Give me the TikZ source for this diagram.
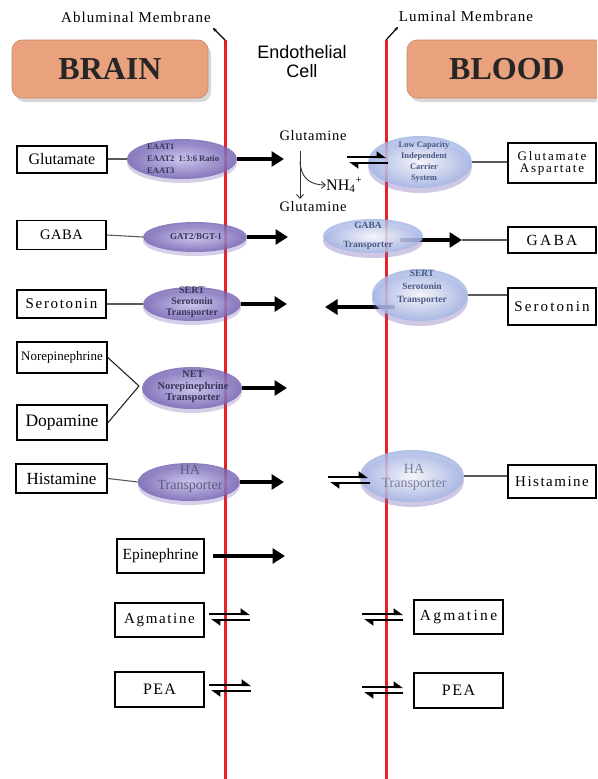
\documentclass[tikz,border=0pt]{standalone}
\usepackage{fontspec}
\setmainfont{Liberation Serif}
\newfontfamily\sansf{Liberation Sans}
\usetikzlibrary{arrows.meta,shapes.geometric,shadows}
\newcommand\fsz[1]{\fontsize{#1}{#1}\selectfont}
\newcommand\lsp[1]{\addfontfeatures{LetterSpace=#1}}
\definecolor{membr}{HTML}{E5222A}
\definecolor{salmon}{HTML}{E9A27D}
\definecolor{purIn}{HTML}{CBC4EE}
\definecolor{purOut}{HTML}{7462B2}
\definecolor{bluOut}{HTML}{A2B4E4}
\definecolor{ptxt}{HTML}{35355A}
\definecolor{btxt}{HTML}{4A5884}
\definecolor{htxt}{HTML}{5A5F80}
\pgfdeclarelayer{back}
\pgfdeclarelayer{mid}
\pgfsetlayers{back,mid,main}
\begin{document}
\begin{tikzpicture}[x=1pt,y=-1pt,
  region/.style={rounded corners=10pt, fill=salmon, draw=salmon!85!black, line width=0.6pt,
    minimum width=196pt, minimum height=58pt, inner sep=0pt, font=\bfseries\fsz{32}, text=black!85,
    drop shadow={opacity=.3, shadow xshift=3pt, shadow yshift=-4pt}},
  title/.style={inner sep=0pt, font=\fsz{15}\lsp{7}},
  endo/.style={inner sep=0pt, align=center, font=\sansf\fontsize{18}{19}\selectfont},
  box/.style={draw, line width=1.5pt, fill=white, inner sep=0pt, align=center},
  pell/.style={ellipse, inner sep=0pt, inner color=purIn, outer color=purOut, fill opacity=.82,
    drop shadow={opacity=.3, fill=purOut, shadow xshift=0pt, shadow yshift=-4pt}},
  bell/.style={ellipse, inner sep=0pt, inner color=white, outer color=bluOut, fill opacity=.82,
    drop shadow={opacity=.35, fill=purOut, shadow xshift=0pt, shadow yshift=-5pt}},
  ptext/.style={inner sep=0pt, align=center, text=ptxt},
  membrane/.style={draw=membr, line width=3pt},
  tick/.style={line width=1.2pt, -{Stealth[length=3.5pt,width=3.5pt]}},
  conn/.style={draw=black!65, line width=1.1pt},
  bigarrow/.style={line width=4pt, -{Triangle[length=12.5pt,width=15pt]}},
  thinarr/.style={line width=0.9pt, draw=black!80, -{Straight Barb[length=4pt,width=7pt]}},
  harp/.style={line width=2.5pt, -{Triangle[harpoon,length=8pt,width=11pt]}}
]
\clip (0,0) rectangle (597,779);

% headers
\node[region] (brain) at (110,69) {BRAIN};
\node[region, minimum width=200pt] (blood) at (507,69) {BLOOD};
\node[title] (ablab) at (136,17) {Abluminal Membrane};
\node[title] (lulab) at (466,16) {Luminal Membrane};
\node[endo] (endo) at (302,62) {Endothelial\\Cell};

% membranes
\coordinate (abTop) at (225,40);
\coordinate (abBot) at (225,779);
\coordinate (abTick) at (213,28);
\coordinate (luTop) at (386,40);
\coordinate (luBot) at (386,779);
\coordinate (luTick) at (398,27);

% left boxes
\node[box, minimum width=90pt, minimum height=27pt, font=\fsz{16}, line width=2pt] (glutL) at (62,159) {Glutamate};
\node[box, minimum width=89pt, minimum height=29pt, font=\fsz{14.5}\lsp{4}] (gabaL) at (61.5,235) {GABA};
\node[box, minimum width=89pt, minimum height=28pt, font=\fsz{15}\lsp{11}] (seroL) at (61.5,304) {Serotonin};
\node[box, minimum width=90pt, minimum height=31pt, font=\fsz{13}] (norL) at (62,357.5) {Norepinephrine};
\node[box, minimum width=90pt, minimum height=35pt, font=\fsz{17.5}, line width=2.2pt] (dopL) at (62,422.5) {Dopamine};
\node[box, minimum width=91pt, minimum height=29pt, font=\fsz{17}, line width=2pt] (histL) at (61.5,478.5) {Histamine};
\node[box, minimum width=87pt, minimum height=34pt, font=\fsz{15.5}] (epiL) at (160.5,556) {Epinephrine};
\node[box, minimum width=89pt, minimum height=34pt, font=\fsz{15}\lsp{11}] (agmL) at (159.5,620) {Agmatine};
\node[box, minimum width=89pt, minimum height=35pt, font=\fsz{16}\lsp{8}] (peaL) at (159.5,689.5) {PEA};

% right boxes
\node[box, minimum width=88pt, minimum height=40pt, font=\fontsize{13}{12}\selectfont\lsp{14}] (glutR) at (552,163) {Glutamate\\Aspartate};
\node[box, minimum width=88pt, minimum height=26pt, font=\fsz{15.5}\lsp{15}] (gabaR) at (552,240) {GABA};
\node[box, minimum width=88pt, minimum height=37pt, font=\fsz{15}\lsp{14}] (seroR) at (552,306.5) {Serotonin};
\node[box, minimum width=88pt, minimum height=33pt, font=\fsz{15}\lsp{10}] (histR) at (552,481.5) {Histamine};
\node[box, minimum width=89pt, minimum height=34pt, font=\fsz{15.5}\lsp{15}] (agmR) at (458.5,617) {Agmatine};
\node[box, minimum width=89pt, minimum height=35pt, font=\fsz{16}\lsp{10}] (peaR) at (458.5,690.5) {PEA};

% ellipses
\node[pell, minimum width=110pt, minimum height=40pt] (eaat) at (182,159) {};
\node[pell, minimum width=104pt, minimum height=30pt] (gat) at (195,237) {};
\node[pell, minimum width=98pt, minimum height=34pt] (sertL) at (192,304) {};
\node[pell, minimum width=100pt, minimum height=42pt] (net) at (192,388) {};
\node[pell, minimum width=102pt, minimum height=38pt] (haL) at (189,482) {};
\node[bell, minimum width=104pt, minimum height=52pt] (lowcap) at (420,162) {};
\node[bell, minimum width=100pt, minimum height=34pt] (gabaT) at (373,236) {};
\node[bell, minimum width=96pt, minimum height=52pt] (sertR) at (420,295) {};
\node[bell, minimum width=104pt, minimum height=52pt] (haR) at (412,476) {};

% ellipse texts
\node[ptext, anchor=west, align=left, font=\bfseries\fontsize{8.5}{12}\selectfont] (eaatT) at (147,159) {EAAT1\\EAAT2\enspace1:3:6 Ratio\\EAAT3};
\node[ptext, font=\bfseries\fsz{9}] (gatT) at (196,237) {GAT2/BGT-1};
\node[ptext, font=\bfseries\fontsize{10}{11}\selectfont] (sertLT) at (192,302) {SERT\\Serotonin\\Transporter};
\node[ptext, font=\bfseries\fontsize{10.5}{11.5}\selectfont] (netT) at (193,387) {NET\\Norepinephrine\\Transporter};
\node[ptext, text=htxt, font=\fontsize{14}{15}\selectfont] (haLT) at (190,479) {HA\\Transporter};
\node[ptext, text=btxt, font=\bfseries\fontsize{8.5}{11}\selectfont] (lowT) at (424,162) {Low Capacity\\Independent\\Carrier\\System};
\node[ptext, text=btxt, font=\bfseries\fontsize{9.5}{19}\selectfont] (gabaTT) at (368,236) {GABA\\Transporter};
\node[ptext, text=btxt, font=\bfseries\fontsize{9.5}{13}\selectfont] (sertRT) at (422,287) {SERT\\Serotonin\\Transporter};
\node[ptext, text=htxt!80, font=\fontsize{14}{14}\selectfont] (haRT) at (414,477) {HA\\Transporter};

% glutamine metabolism
\node[inner sep=0pt, font=\fsz{14.5}\lsp{5}] (gln1) at (313,136) {Glutamine};
\node[inner sep=0pt, font=\fsz{14.5}\lsp{5}] (gln2) at (313,207) {Glutamine};
\node[inner sep=0pt, font=\fsz{16}, anchor=west] (nh4) at (326,185) {NH\textsubscript{4}\textsuperscript{+}};
\coordinate (glnA) at (300,151);
\coordinate (glnB) at (300,199);
\coordinate (glnC) at (300,162);

% free arrow ends
\coordinate (a1) at (284,159);
\coordinate (a2) at (288,237);
\coordinate (a3) at (287,304);
\coordinate (a4) at (287,388);
\coordinate (a5) at (284,482);
\coordinate (a6) at (285,556);
\coordinate (gabaArrS) at (400,240);
\coordinate (gabaArrE) at (462,240);
\coordinate (sertArrS) at (395,307);
\coordinate (sertArrE) at (325,307);
\coordinate (netJoin) at (139,386);

\begin{pgfonlayer}{back}
  \fill[white] (0,0) rectangle (597,779);
  \draw[membrane] (abTop) -- (abBot);
  \draw[membrane] (luTop) -- (luBot);
  \draw[tick] (abTop) -- (abTick);
  \draw[tick] (luTop) -- (luTick);
\end{pgfonlayer}

\begin{pgfonlayer}{mid}
  \draw[conn] (glutL.east) -- (eaat.west);
  \draw[conn] (gabaL.east) -- (gat.west);
  \draw[conn] (seroL.east) -- (sertL.west);
  \draw[conn, black!85] (norL.east) -- (netJoin);
  \draw[conn, black!85] (dopL.east) -- (netJoin);
  \draw[conn] (histL.east) -- (haL.west);
  \draw[conn] (lowcap.east) -- (lowcap.east -| glutR.west);
  \draw[conn] (gabaArrE) -- (gabaR.west);
  \draw[conn] (sertR.east) -- (sertR.east -| seroR.west);
  \draw[conn] (haR.east) -- (haR.east -| histR.west);
  \draw[bigarrow] (eaat.east) -- (a1);
  \draw[bigarrow] (gat.east) -- (a2);
  \draw[bigarrow] (sertL.east) -- (a3);
  \draw[bigarrow] (net.east) -- (a4);
  \draw[bigarrow] (haL.east) -- (a5);
  \draw[bigarrow, shorten <=8pt] (epiL.east) -- (a6);
  \draw[bigarrow] (gabaArrS) -- (gabaArrE);
  \draw[bigarrow] (sertArrS) -- (sertArrE);
  \draw[thinarr] (glnA) -- (glnB);
  \draw[thinarr] (glnC) .. controls (301,178) and (310,185) .. (nh4.west);
\end{pgfonlayer}

% harpoons
\coordinate (h1a) at (347,157); \coordinate (h1b) at (386,157);
\coordinate (h1c) at (388,163); \coordinate (h1d) at (349,163);
\draw[harp] (h1a) -- (h1b); \draw[harp] (h1c) -- (h1d);
\coordinate (h2a) at (328,477); \coordinate (h2b) at (368,477);
\coordinate (h2c) at (370,483); \coordinate (h2d) at (330,483);
\draw[harp] (h2a) -- (h2b); \draw[harp] (h2c) -- (h2d);
\coordinate (h3a) at (209,614); \coordinate (h3b) at (250,614);
\coordinate (h3c) at (250,620); \coordinate (h3d) at (211,620);
\draw[harp] (h3a) -- (h3b); \draw[harp] (h3c) -- (h3d);
\coordinate (h4a) at (362,614); \coordinate (h4b) at (403,614);
\coordinate (h4c) at (403,620); \coordinate (h4d) at (364,620);
\draw[harp] (h4a) -- (h4b); \draw[harp] (h4c) -- (h4d);
\coordinate (h5a) at (209,685); \coordinate (h5b) at (251,685);
\coordinate (h5c) at (251,691); \coordinate (h5d) at (211,691);
\draw[harp] (h5a) -- (h5b); \draw[harp] (h5c) -- (h5d);
\coordinate (h6a) at (362,687); \coordinate (h6b) at (403,687);
\coordinate (h6c) at (403,693); \coordinate (h6d) at (364,693);
\draw[harp] (h6a) -- (h6b); \draw[harp] (h6c) -- (h6d);
\end{tikzpicture}
\end{document}
